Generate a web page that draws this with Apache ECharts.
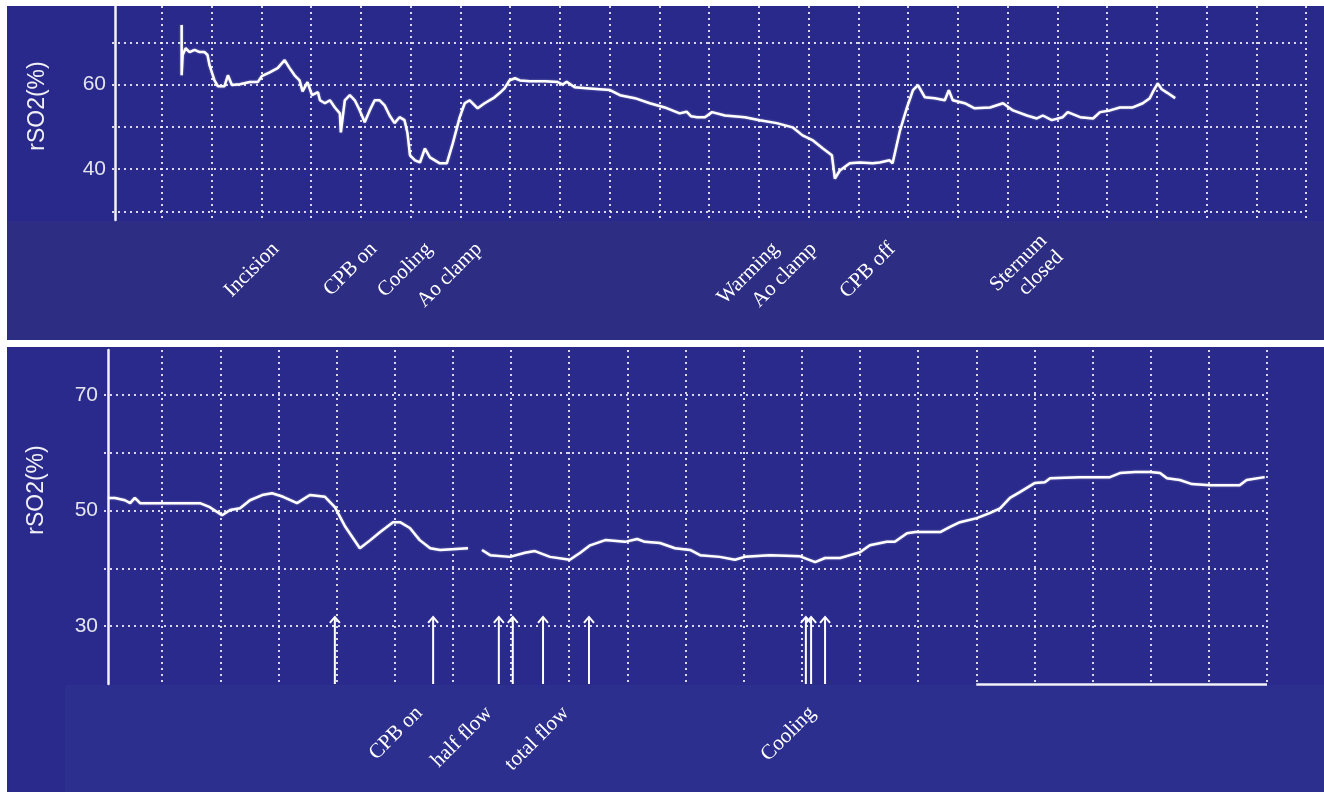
<!DOCTYPE html>
<html>
<head>
<meta charset="utf-8">
<script src="https://cdn.jsdelivr.net/npm/echarts@6/dist/echarts.min.js"></script>
<style>
  html, body { margin: 0; padding: 0; background: #ffffff; }
  #chart { width: 1324px; height: 792px; }
</style>
</head>
<body>
<div id="chart"></div>
<script>
// ---- Upper recording: time in grid divisions, cerebral rSO2 in % ----
const upperTime = [
  1.40, 1.40, 1.42, 1.48, 1.56, 1.66, 1.76, 1.86, 1.92, 1.96, 2.06, 2.13, 2.26, 2.33, 2.41, 2.57,
  2.77, 2.93, 3.01, 3.17, 3.33, 3.47, 3.57, 3.67, 3.77, 3.83, 3.93, 4.02, 4.14, 4.18, 4.28, 4.38,
  4.48, 4.58, 4.60, 4.68, 4.78, 4.88, 4.98, 5.08, 5.18, 5.28, 5.38, 5.48, 5.58, 5.68, 5.78, 5.88,
  5.94, 5.99, 6.09, 6.19, 6.29, 6.39, 6.49, 6.59, 6.73, 6.85, 6.99, 7.09, 7.19, 7.35, 7.49, 7.69,
  7.79, 7.89, 7.99, 8.10, 8.20, 8.40, 8.70, 8.96, 9.06, 9.14, 9.30, 9.60, 10.01, 10.21, 10.51, 10.81,
  11.11, 11.41, 11.55, 11.64, 11.76, 11.92, 12.06, 12.32, 12.72, 13.02, 13.36, 13.68, 13.88, 14.09,
  14.29, 14.47, 14.53, 14.63, 14.83, 15.03, 15.29, 15.43, 15.63, 15.69, 15.84, 15.98, 16.10, 16.20,
  16.34, 16.54, 16.74, 16.82, 16.90, 17.14, 17.34, 17.65, 17.91, 18.11, 18.39, 18.59, 18.71, 18.89,
  19.11, 19.21, 19.46, 19.72, 19.86, 20.06, 20.26, 20.52, 20.72, 20.86, 20.92, 21.02, 21.10, 21.22,
  21.37
];
const upperRso2 = [
  74.1, 62.2, 67.0, 68.6, 67.7, 68.2, 67.7, 67.7, 67.0, 64.6, 61.0, 59.6, 59.6, 62.2, 59.9, 60.1,
  60.6, 60.6, 62.0, 62.9, 63.9, 65.8, 63.9, 62.2, 61.0, 58.4, 60.6, 57.5, 58.2, 56.3, 55.6, 56.3,
  54.6, 53.2, 48.7, 56.3, 57.5, 56.3, 53.9, 51.1, 53.9, 56.3, 56.3, 55.1, 52.7, 50.9, 52.3, 51.6,
  48.5, 43.3, 42.1, 41.6, 44.9, 42.8, 42.1, 41.4, 41.4, 46.1, 52.3, 55.6, 56.3, 54.4, 55.6, 57.0,
  58.0, 59.1, 61.0, 61.5, 61.0, 60.8, 60.8, 60.6, 60.0, 60.7, 59.4, 59.1, 58.7, 57.5, 56.8, 55.6,
  54.6, 53.2, 53.6, 52.5, 52.3, 52.3, 53.5, 52.7, 52.3, 51.6, 50.9, 49.9, 48.0, 46.8,
  44.9, 43.3, 37.8, 39.7, 41.4, 41.6, 41.4, 41.6, 42.1, 41.4, 49.2, 54.6, 58.7, 59.9,
  57.0, 56.8, 56.3, 58.7, 56.3, 55.6, 54.4, 54.6, 55.6, 53.9, 52.7, 52.0, 52.7, 51.6,
  52.3, 53.5, 52.3, 52.0, 53.5, 53.9, 54.6, 54.6, 55.6, 56.8, 58.2, 60.3, 58.9, 58.0,
  56.8
];
const upperEventTimes = [3.29, 5.26, 6.37, 7.37, 13.34, 14.10, 15.68, 18.89];
const upperEventNames = ['Incision', 'CPB on', 'Cooling', 'Ao clamp', 'Warming', 'Ao clamp', 'CPB off', 'Sternum\nclosed'];
const upperTickLabels = [40, 60, 80];

// ---- Lower recording ----
const lowerTime = [
  0.07, 0.19, 0.36, 0.45, 0.53, 0.62, 0.96, 1.31, 1.65, 1.82, 2.03, 2.17, 2.34, 2.51, 2.72, 2.89,
  3.08, 3.32, 3.54, 3.80, 3.97, 4.15, 4.40, 4.58, 4.75, 4.97, 5.09, 5.26, 5.43, 5.61, 5.78, 6.26,
  6.38,
  6.50, 6.64, 6.98, 7.24, 7.41, 7.67, 8.01, 8.19, 8.36, 8.62, 8.96, 9.17, 9.30, 9.56, 9.82, 10.08,
  10.25, 10.59, 10.85, 11.02, 11.45, 11.97, 12.23, 12.40, 12.66, 12.83, 13.00, 13.17, 13.46, 13.60,
  13.81, 13.95, 14.38, 14.55, 14.72, 15.01, 15.24, 15.41, 15.58, 15.75, 16.01, 16.18, 16.27, 16.78,
  17.30, 17.47, 17.73, 17.99, 18.16, 18.28, 18.50, 18.71, 19.02, 19.53, 19.65, 19.96
];
const lowerRso2 = [
  52.2, 52.2, 51.8, 51.3, 52.2, 51.3, 51.3, 51.3, 51.3, 50.6, 49.2, 50.1, 50.4, 51.8, 52.7, 53.0,
  52.4, 51.3, 52.7, 52.4, 50.6, 47.2, 43.5, 44.9, 46.3, 48.0, 48.0, 47.0, 44.9, 43.5, 43.2, 43.5,
  null,
  43.2, 42.3, 42.0, 42.7, 43.0, 42.0, 41.5, 42.7, 44.0, 44.9, 44.6, 45.1, 44.6, 44.4, 43.5, 43.2,
  42.3, 42.0, 41.5, 42.0, 42.3, 42.1, 41.1, 41.8, 41.8, 42.3, 42.8, 44.0, 44.6, 44.6,
  46.1, 46.3, 46.3, 47.2, 48.0, 48.7, 49.6, 50.4, 52.2, 53.2, 54.8, 54.9, 55.6, 55.8,
  55.8, 56.5, 56.7, 56.7, 56.5, 55.6, 55.3, 54.6, 54.4, 54.4, 55.3, 55.8
];
const lowerArrowTimes = [3.97, 5.66, 6.79, 7.03, 7.55, 8.34, 12.07, 12.16, 12.40];
const lowerEventTimes = [5.42, 6.62, 7.94, 12.18];
const lowerEventNames = ['CPB on', 'half flow', 'total flow', 'Cooling'];
const lowerTickLabels = [30, 50, 70];

// ---- styling ----
const ARROW_TIP = 31.6;
const dotted = { color: 'rgba(255,255,255,0.82)', width: 2, type: [2, 4] };
const tickFont = { color: '#e4e4ee', fontSize: 21, fontFamily: '"Liberation Sans", Arial, sans-serif' };
const nameFont = { color: '#f0f0f6', fontSize: 23, fontFamily: '"Liberation Sans", Arial, sans-serif' };
const eventFont = '21px "Liberation Serif", "Times New Roman", serif';

const zip = (xs, ys) => xs.map((x, i) => [x, ys[i]]);

function eventLabels(names, offsetY) {
  return function (params, api) {
    const p = api.coord([api.value(0), api.value(1)]);
    return {
      type: 'text',
      x: p[0],
      y: p[1] + offsetY,
      rotation: Math.PI / 4,
      style: {
        text: names[params.dataIndex],
        fill: '#ffffff',
        font: eventFont,
        align: 'right',
        verticalAlign: 'middle',
        lineHeight: 23
      }
    };
  };
}

const chart = echarts.init(document.getElementById('chart'), null, { renderer: 'canvas' });

chart.setOption({
  animation: false,
  backgroundColor: '#ffffff',
  graphic: [
    { type: 'rect', z: -10, shape: { x: 7, y: 0, width: 1317, height: 340 }, style: { fill: '#29298b' } },
    { type: 'rect', z: -9, shape: { x: 7, y: 221, width: 1317, height: 119 }, style: { fill: '#2d2d84' } },
    { type: 'rect', z: -10, shape: { x: 7, y: 347, width: 1317, height: 445 }, style: { fill: '#2a2a8c' } },
    { type: 'rect', z: -9, shape: { x: 65, y: 685, width: 1259, height: 107 }, style: { fill: '#2c2f8e' } },
    { type: 'rect', z: 100, shape: { x: 0, y: 0, width: 1324, height: 6 }, style: { fill: '#ffffff' } },
    { type: 'rect', z: 100, shape: { x: 0, y: 340, width: 1324, height: 7 }, style: { fill: '#ffffff' } },
    { type: 'rect', z: 100, shape: { x: 0, y: 0, width: 7, height: 792 }, style: { fill: '#ffffff' } }
  ],
  grid: [
    { left: 112, top: 0, width: 1194, height: 220, outerBoundsMode: 'none', containLabel: false },
    { left: 104, top: 350, width: 1163, height: 334, outerBoundsMode: 'none', containLabel: false }
  ],
  xAxis: [
    {
      gridIndex: 0, type: 'value', min: 0, max: 24, interval: 1,
      axisLine: { show: false }, axisTick: { show: false }, axisLabel: { show: false },
      splitLine: { show: true, showMinLine: false, lineStyle: dotted }
    },
    {
      gridIndex: 1, type: 'value', min: 0, max: 20, interval: 1,
      axisLine: { show: false }, axisTick: { show: false }, axisLabel: { show: false },
      splitLine: { show: true, showMinLine: false, lineStyle: dotted }
    }
  ],
  yAxis: [
    {
      gridIndex: 0, type: 'value', min: 28, max: 80, offset: -3,
      axisLine: { show: true, onZero: false, lineStyle: { color: '#f2f2f8', width: 2.5 } },
      axisTick: { show: false },
      axisLabel: Object.assign({ margin: 9, formatter: v => upperTickLabels.includes(v) ? String(v) : '' }, tickFont),
      splitLine: { show: true, showMinLine: false, lineStyle: dotted },
      name: 'rSO2(%)', nameLocation: 'middle', nameRotate: 90, nameGap: 66,
      nameTextStyle: Object.assign({ padding: [0, 0, 0, 8] }, nameFont)
    },
    {
      gridIndex: 1, type: 'value', min: 20, max: 77.8, offset: -4,
      axisLine: { show: true, onZero: false, lineStyle: { color: '#f2f2f8', width: 2.5 } },
      axisTick: { show: false },
      axisLabel: Object.assign({ margin: 10, formatter: v => lowerTickLabels.includes(v) ? String(v) : '' }, tickFont),
      splitLine: { show: true, showMinLine: false, showMaxLine: false, lineStyle: dotted },
      name: 'rSO2(%)', nameLocation: 'middle', nameRotate: 90, nameGap: 60,
      nameTextStyle: Object.assign({ padding: [0, 0, 0, 54] }, nameFont)
    }
  ],
  series: [
    {
      type: 'line', xAxisIndex: 0, yAxisIndex: 0, data: zip(upperTime, upperRso2),
      showSymbol: false, silent: true, z: 5,
      lineStyle: { color: '#ffffff', width: 2.5, shadowColor: 'rgba(255,255,255,0.45)', shadowBlur: 2 }
    },
    {
      type: 'custom', xAxisIndex: 0, yAxisIndex: 0, clip: false, silent: true, z: 6,
      data: upperEventTimes.map(t => [t, 28]),
      renderItem: eventLabels(upperEventNames, 26)
    },
    {
      type: 'line', xAxisIndex: 1, yAxisIndex: 1, data: zip(lowerTime, lowerRso2),
      showSymbol: false, silent: true, connectNulls: false, z: 5,
      lineStyle: { color: '#ffffff', width: 2.5, shadowColor: 'rgba(255,255,255,0.45)', shadowBlur: 2 },
      markLine: {
        silent: true, symbol: 'none', label: { show: false },
        lineStyle: { color: '#f0f0f8', width: 2.5, type: 'solid' },
        data: [[{ coord: [15, 20] }, { coord: [20, 20] }]]
      }
    },
    {
      type: 'custom', xAxisIndex: 1, yAxisIndex: 1, clip: false, silent: true, z: 6,
      data: lowerArrowTimes.map(t => [t, 20, ARROW_TIP]),
      renderItem: function (params, api) {
        const base = api.coord([api.value(0), api.value(1)]);
        const tip = api.coord([api.value(0), api.value(2)]);
        const stroke = { stroke: '#ffffff', lineWidth: 2, fill: null };
        return {
          type: 'group',
          children: [
            { type: 'line', shape: { x1: base[0], y1: base[1], x2: tip[0], y2: tip[1] }, style: stroke },
            { type: 'polyline', shape: { points: [[tip[0] - 5, tip[1] + 6], [tip[0], tip[1]], [tip[0] + 5, tip[1] + 6]] }, style: stroke }
          ]
        };
      }
    },
    {
      type: 'custom', xAxisIndex: 1, yAxisIndex: 1, clip: false, silent: true, z: 6,
      data: lowerEventTimes.map(t => [t, 20]),
      renderItem: eventLabels(lowerEventNames, 26)
    }
  ]
});
</script>
</body>
</html>
